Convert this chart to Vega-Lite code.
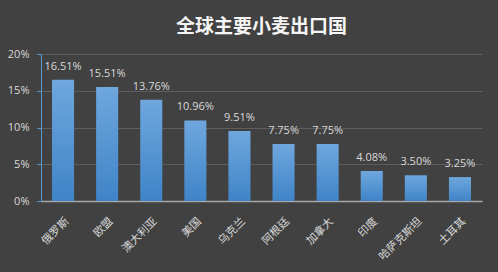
{
  "$schema": "https://vega.github.io/schema/vega-lite/v6.json",
  "width": 441,
  "height": 147,
  "autosize": {"type": "none"},
  "padding": {"left": 41, "top": 54, "right": 16, "bottom": 71},
  "background": "#414141",
  "title": {
    "text": "全球主要小麦出口国",
    "font": "Noto Sans CJK SC",
    "fontSize": 19,
    "fontWeight": "bold",
    "color": "#f5f5f5",
    "anchor": "middle",
    "offset": 11
  },
  "data": {
    "values": [
      {"country": "俄罗斯", "share": 0.1651},
      {"country": "欧盟", "share": 0.1551},
      {"country": "澳大利亚", "share": 0.1376},
      {"country": "美国", "share": 0.1096},
      {"country": "乌克兰", "share": 0.0951},
      {"country": "阿根廷", "share": 0.0775},
      {"country": "加拿大", "share": 0.0775},
      {"country": "印度", "share": 0.0408},
      {"country": "哈萨克斯坦", "share": 0.035},
      {"country": "土耳其", "share": 0.0325}
    ]
  },
  "encoding": {
    "x": {
      "field": "country",
      "type": "nominal",
      "sort": null,
      "scale": {"paddingInner": 0.5, "paddingOuter": 0.25},
      "axis": {
        "title": null,
        "labelAngle": -45,
        "labelFont": "Noto Sans CJK SC",
        "labelFontSize": 11,
        "labelColor": "#d9d9d9",
        "labelPadding": 14,
        "ticks": false,
        "domainColor": "#a6a6a6",
        "domainWidth": 1.5
      }
    },
    "y": {
      "field": "share",
      "type": "quantitative",
      "scale": {"domain": [0, 0.2]},
      "axis": {
        "title": null,
        "format": ".0%",
        "values": [0, 0.05, 0.1, 0.15, 0.2],
        "labelOverlap": false,
        "labelFlush": false,
        "labelFont": "Open Sans",
        "labelFontSize": 11,
        "labelColor": "#d9d9d9",
        "labelPadding": 8,
        "tickColor": "#5b9bd5",
        "tickSize": 4,
        "domainColor": "#5b9bd5",
        "gridColor": "#5e5e5e",
        "gridWidth": 1
      }
    }
  },
  "layer": [
    {
      "mark": {
        "type": "bar",
        "color": {
          "gradient": "linear",
          "x1": 0, "y1": 0, "x2": 0, "y2": 1,
          "stops": [
            {"offset": 0, "color": "#6fa7de"},
            {"offset": 1, "color": "#3f84c8"}
          ]
        }
      }
    },
    {
      "mark": {
        "type": "text",
        "baseline": "bottom",
        "dy": -8,
        "font": "Open Sans",
        "fontSize": 11,
        "color": "#d9d9d9"
      },
      "encoding": {
        "text": {"field": "share", "type": "quantitative", "format": ".2%"}
      }
    }
  ],
  "config": {
    "view": {"stroke": null}
  }
}
